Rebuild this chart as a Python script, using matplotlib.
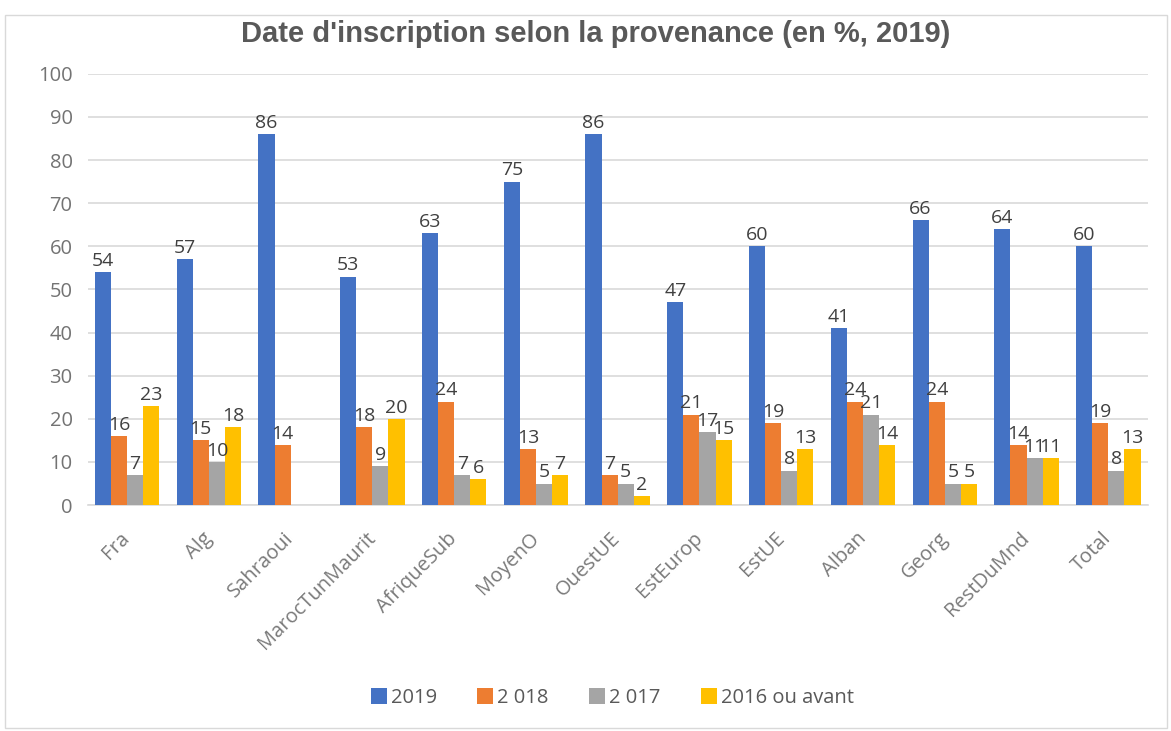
import numpy as np
import matplotlib
matplotlib.use("Agg")
from matplotlib import pyplot as plt
from matplotlib.patches import Rectangle

categories = ["Fra", "Alg", "Sahraoui", "MarocTunMaurit", "AfriqueSub", "MoyenO",
              "OuestUE", "EstEurop", "EstUE", "Alban", "Georg", "RestDuMnd", "Total"]
v2019 = [54, 57, 86, 53, 63, 75, 86, 47, 60, 41, 66, 64, 60]
v2018 = [16, 15, 14, 18, 24, 13, 7, 21, 19, 24, 24, 14, 19]
v2017 = [7, 10, np.nan, 9, 7, 5, 5, 17, 8, 21, 5, 11, 8]
v2016 = [23, 18, np.nan, 20, 6, 7, 2, 15, 13, 14, 5, 11, 13]
series_names = ["2019", "2 018", "2 017", "2016 ou avant"]
colors = ["#4472C4", "#ED7D31", "#A5A5A5", "#FFC000"]

plt.rcParams['font.family'] = ['Open Sans', 'DejaVu Sans']

fig = plt.figure(figsize=(11.71, 7.31), dpi=100)
ax = fig.add_axes([0.075, 0.309, 0.905, 0.590])

# chart frame
fig.patches.append(Rectangle((5 / 1171, 3 / 731), 1162 / 1171, 713 / 731,
                             transform=fig.transFigure, fill=False,
                             edgecolor="#d9d9d9", linewidth=1))

x = np.arange(len(categories))
w = 0.197
all_vals = [v2019, v2018, v2017, v2016]
for i, (vals, name, col) in enumerate(zip(all_vals, series_names, colors)):
    pos = x + (i - 1.5) * w
    ax.bar(pos, vals, width=w, color=col, label=name, zorder=3)
    for p, v in zip(pos, vals):
        if np.isnan(v):
            continue
        ax.text(p, v + 0.5, f"{int(v)}", ha="center", va="bottom",
                fontsize=14, color="#404040", zorder=4)

ax.set_ylim(0, 100)
ax.set_xlim(-0.48, len(categories) - 0.52)
ax.set_yticks(range(0, 101, 10))
ax.yaxis.grid(True, color="#d9d9d9", linewidth=1.2, zorder=0)
ax.set_axisbelow(True)
for s in ["top", "right", "left"]:
    ax.spines[s].set_visible(False)
ax.spines["bottom"].set_color("#d9d9d9")
ax.spines["bottom"].set_linewidth(1.2)
ax.tick_params(axis="both", length=0, colors="#737373", labelsize=14.5)
ax.tick_params(axis="y", pad=11)
ax.set_xticks(x)
ax.set_xticklabels(categories, rotation=45, ha="right", va="center",
                   rotation_mode="anchor", color="#7a7a7a", fontsize=14.5)
ax.tick_params(axis="x", pad=22)

fig.text(0.509, 0.953, "Date d'inscription selon la provenance (en %, 2019)",
         ha="center", va="center", fontsize=21, fontweight="bold",
         color="#595959", family=["Liberation Sans Narrow", "Liberation Sans", "DejaVu Sans"])

leg = fig.legend(loc="center", bbox_to_anchor=(0.523, 0.045), ncol=4, frameon=False,
                 fontsize=14.5, handlelength=0.8, handleheight=0.8,
                 columnspacing=2.0, handletextpad=0.2)
for t in leg.get_texts():
    t.set_color("#595959")

fig.savefig("out.png", dpi=100)
